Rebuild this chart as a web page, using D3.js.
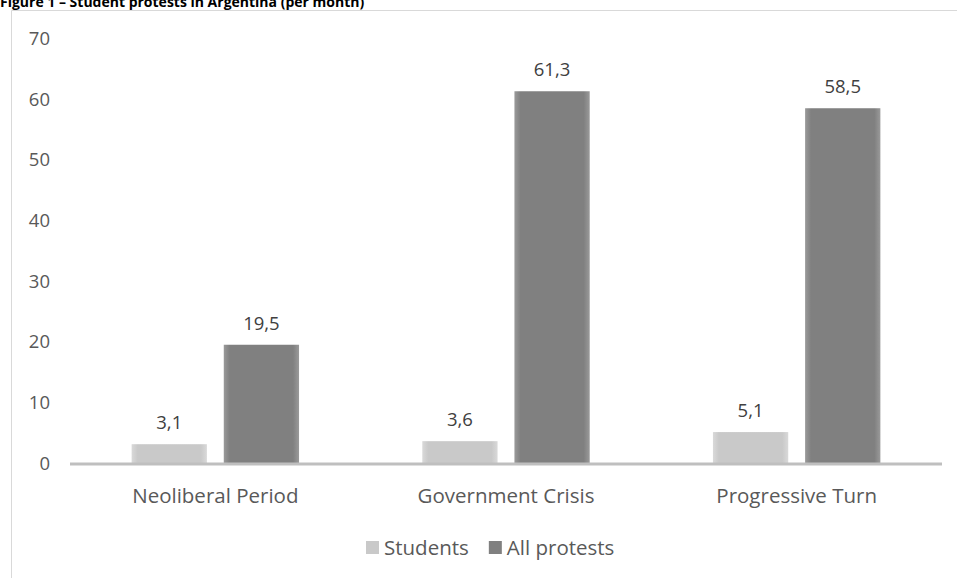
<!DOCTYPE html>
<html>
<head>
<meta charset="utf-8">
<script src="https://cdn.jsdelivr.net/npm/d3@7"></script>
<style>
  body { margin: 0; background: #fff; }
  svg { display: block; font-family: "Open Sans", sans-serif; }
</style>
</head>
<body>
<div id="chart-area"></div>
<script>
// chart data
var categories = ["Neoliberal Period", "Government Crisis", "Progressive Turn"];
var seriesNames = ["Students", "All protests"];
var students = [3.1, 3.6, 5.1];
var allProtests = [19.5, 61.3, 58.5];
var yTicks = [0, 10, 20, 30, 40, 50, 60, 70];

var width = 957, height = 578;
var colors = ["#c9c9c9", "#808080"];
var edgeColors = ["#d9d9d9", "#9a9a9a"];

var svg = d3.select("#chart-area").append("svg")
    .attr("width", width)
    .attr("height", height);

// soft edged bar fills
var defs = svg.append("defs");
colors.forEach(function(c, i){
    var g = defs.append("linearGradient")
        .attr("id", "grad" + i)
        .attr("x1", "0%").attr("x2", "100%");
    g.append("stop").attr("offset", "0%").attr("stop-color", edgeColors[i]);
    g.append("stop").attr("offset", "8%").attr("stop-color", c);
    g.append("stop").attr("offset", "92%").attr("stop-color", c);
    g.append("stop").attr("offset", "100%").attr("stop-color", edgeColors[i]);
});

// title (cut off at the top)
svg.append("text")
    .attr("x", 0)
    .attr("y", 7)
    .attr("font-size", 14)
    .attr("font-weight", "bold")
    .attr("fill", "#000")
    .text("Figure 1 \u2013 Student protests in Argentina (per month)");

// chart frame
svg.append("path")
    .attr("d", "M11.5," + height + "V10.5H" + width)
    .attr("fill", "none")
    .attr("stroke", "#d9d9d9")
    .attr("stroke-width", 1);

var x0 = d3.scaleBand()
    .domain(categories)
    .range([70, 942]);

var y = d3.scaleLinear()
    .domain([0, 70])
    .range([463, 38.5]);

var bw = x0.bandwidth() * 0.259;
var gap = x0.bandwidth() * 0.058;

// y tick labels
svg.selectAll(".ytick")
    .data(yTicks)
    .enter()
    .append("text")
        .attr("class", "ytick")
        .attr("x", 50)
        .attr("y", function(d){ return y(d); })
        .attr("dy", "0.36em")
        .attr("text-anchor", "end")
        .attr("font-size", 18.5)
        .attr("fill", "#595959")
        .text(function(d){ return d; });

var rows = categories.map(function(c, i){
    return { cat: c, values: [students[i], allProtests[i]] };
});

function barX(d, s){
    var center = x0(d.cat) + x0.bandwidth() / 2;
    return s === 0 ? center - gap / 2 - bw : center + gap / 2;
}

[0, 1].forEach(function(s){
    svg.selectAll(".bar" + s)
        .data(rows)
        .enter()
        .append("rect")
            .attr("class", "bar" + s)
            .attr("x", function(d){ return barX(d, s); })
            .attr("y", function(d){ return y(d.values[s]); })
            .attr("width", bw)
            .attr("height", function(d){ return y(0) - y(d.values[s]); })
            .attr("fill", "url(#grad" + s + ")");

    svg.selectAll(".label" + s)
        .data(rows)
        .enter()
        .append("text")
            .attr("class", "label" + s)
            .attr("x", function(d){ return barX(d, s) + bw / 2; })
            .attr("y", function(d){ return y(d.values[s]) - 15; })
            .attr("text-anchor", "middle")
            .attr("font-size", 18.5)
            .attr("fill", "#404040")
            .text(function(d){ return String(d.values[s]).replace(".", ","); });
});

// baseline
svg.append("line")
    .attr("x1", 70).attr("x2", 942)
    .attr("y1", y(0) + 1).attr("y2", y(0) + 1)
    .attr("stroke", "#bfbfbf")
    .attr("stroke-width", 3);

// category labels
svg.selectAll(".xlabel")
    .data(categories)
    .enter()
    .append("text")
        .attr("class", "xlabel")
        .attr("x", function(d){ return x0(d) + x0.bandwidth() / 2; })
        .attr("y", 503)
        .attr("text-anchor", "middle")
        .attr("font-size", 20.5)
        .attr("fill", "#595959")
        .text(function(d){ return d; });

// legend, laid out left to right
var lx = 366;
seriesNames.forEach(function(name, i){
    var item = svg.append("g")
        .attr("class", "legend")
        .attr("transform", "translate(" + lx + ",541)");
    item.append("rect")
        .attr("width", 13)
        .attr("height", 13)
        .attr("fill", colors[i]);
    var t = item.append("text")
        .attr("x", 18)
        .attr("y", 14)
        .attr("font-size", 20.5)
        .attr("fill", "#595959")
        .text(name);
    lx += 18 + t.node().getComputedTextLength() + 20;
});
</script>
</body>
</html>
